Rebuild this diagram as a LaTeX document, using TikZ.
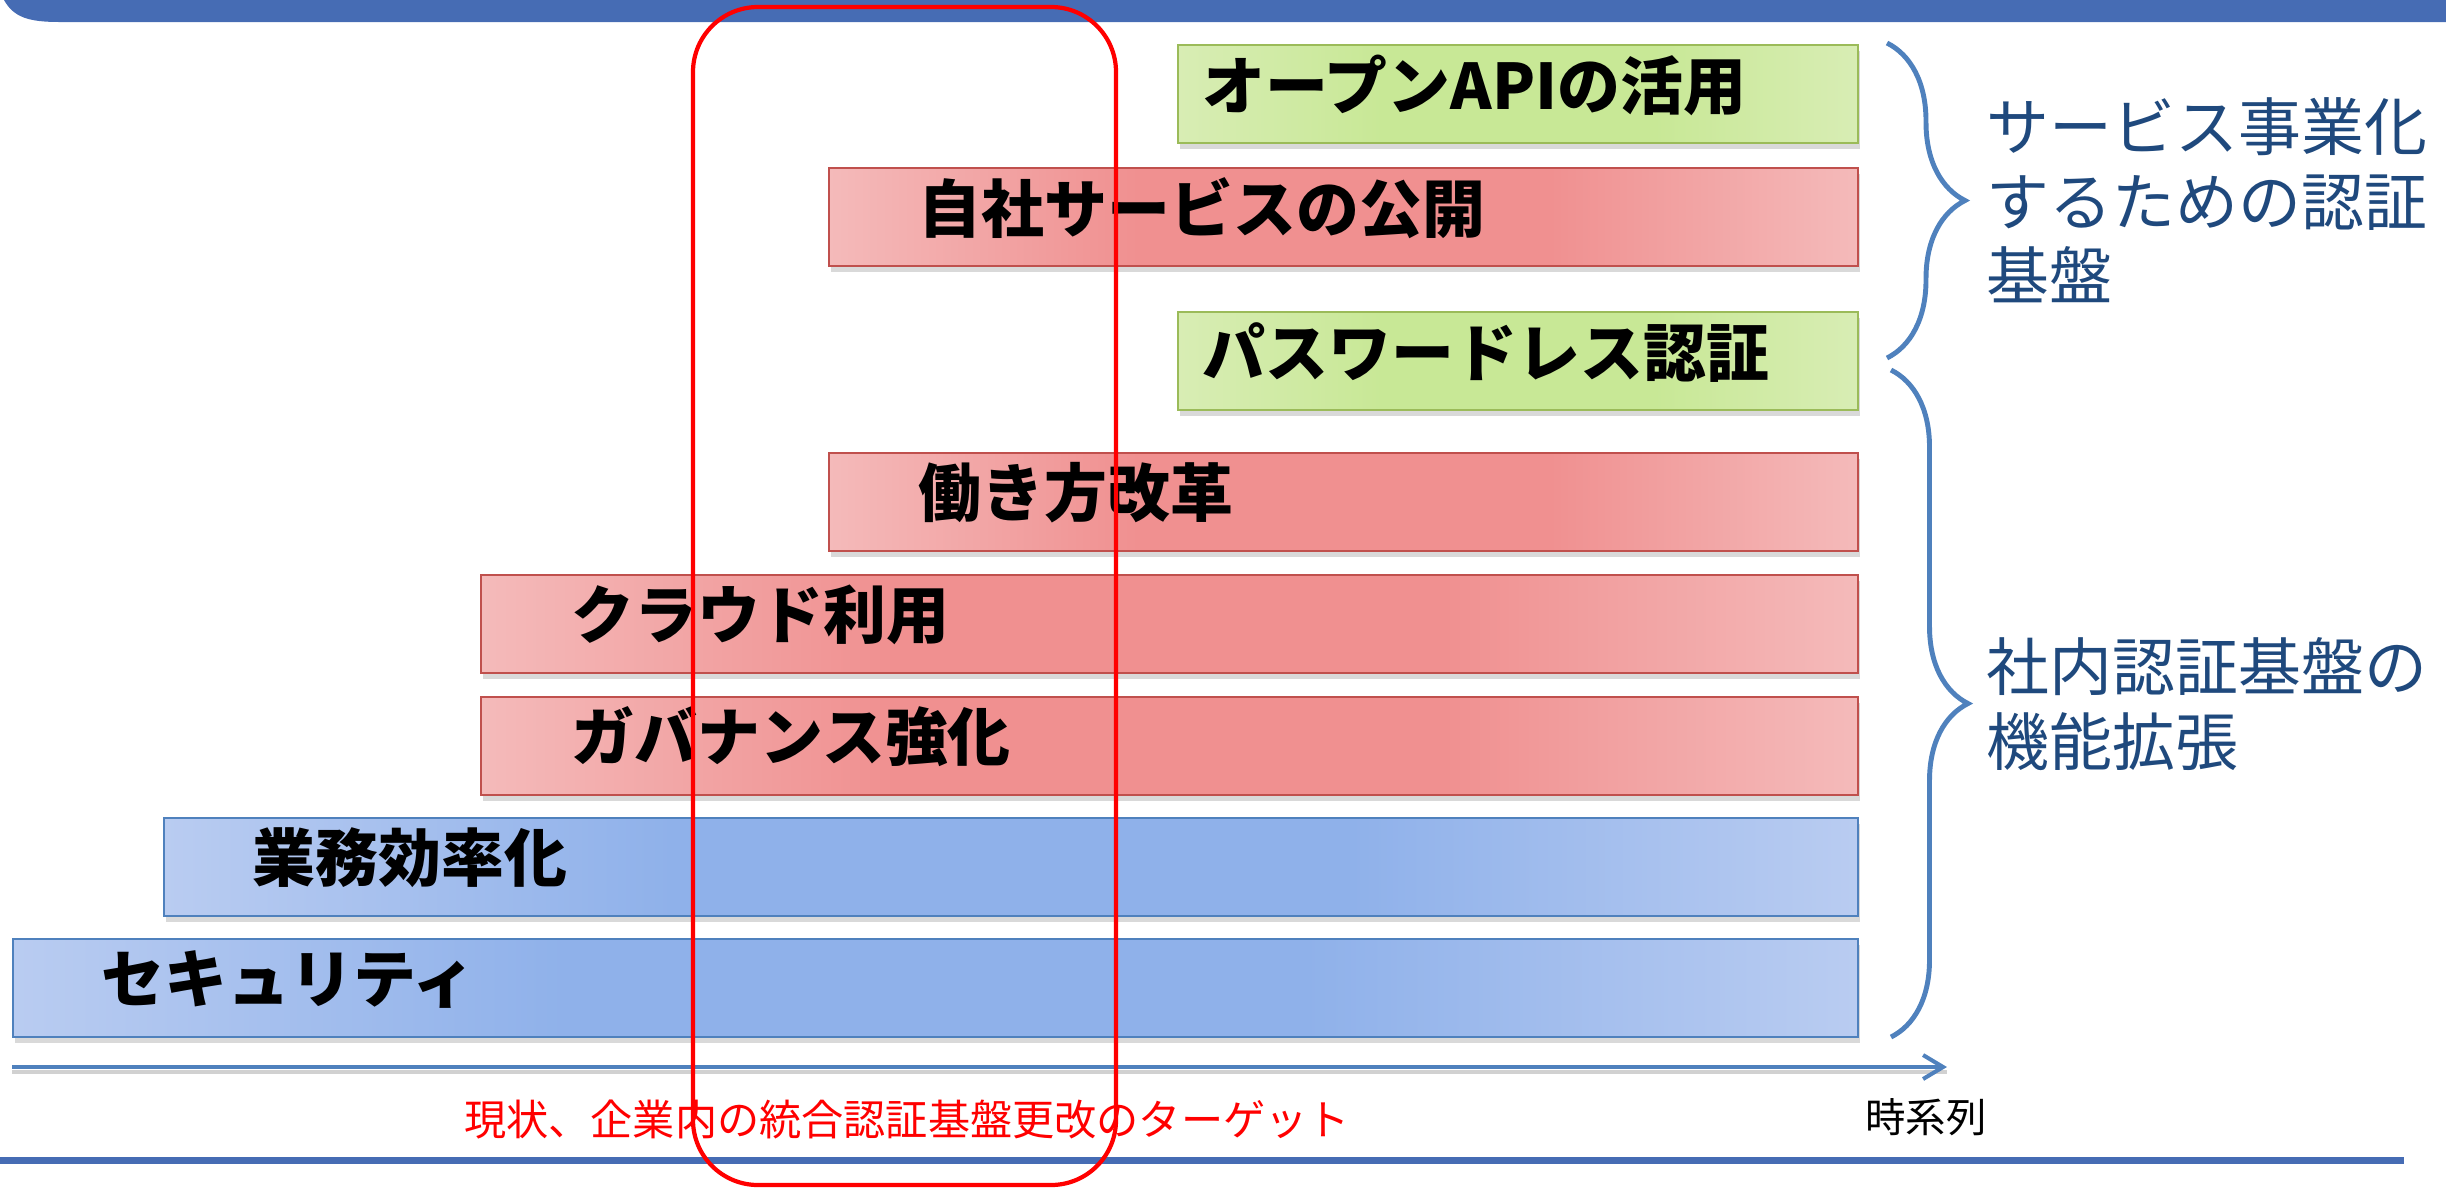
\documentclass[tikz,border=0pt]{standalone}
\usepackage{fontspec}
\newfontfamily\jp{Noto Sans CJK JP}
\usetikzlibrary{arrows.meta,shadows,decorations.pathreplacing}
\definecolor{banner}{HTML}{466CB4}
\definecolor{axisblue}{HTML}{4F81BD}
\definecolor{navy}{HTML}{1F497D}
\definecolor{redL}{HTML}{F4BABA}
\definecolor{redD}{HTML}{F09090}
\definecolor{redE}{HTML}{C0504D}
\definecolor{greenL}{HTML}{D8EDB4}
\definecolor{greenD}{HTML}{C8E896}
\definecolor{greenE}{HTML}{9BBB59}
\definecolor{blueL}{HTML}{B9CCF1}
\definecolor{blueD}{HTML}{8FB1EA}
\definecolor{blueE}{HTML}{4F81BD}
\pgfdeclarehorizontalshading{redgrad}{100bp}{color(0bp)=(redL); color(25bp)=(redL); color(40bp)=(redD); color(60bp)=(redD); color(75bp)=(redL); color(100bp)=(redL)}
\pgfdeclarehorizontalshading{greengrad}{100bp}{color(0bp)=(greenL); color(25bp)=(greenL); color(40bp)=(greenD); color(60bp)=(greenD); color(75bp)=(greenL); color(100bp)=(greenL)}
\pgfdeclarehorizontalshading{bluegrad}{100bp}{color(0bp)=(blueL); color(25bp)=(blueL); color(40bp)=(blueD); color(60bp)=(blueD); color(75bp)=(blueL); color(100bp)=(blueL)}
\tikzset{
  barbox/.style={anchor=north west, inner sep=0pt, minimum height=9.8mm, line width=.6pt,
    drop shadow={shadow xshift=.2mm, shadow yshift=-.6mm, opacity=.3}},
  redbar/.style={barbox, draw=redE, shading=redgrad},
  greenbar/.style={barbox, draw=greenE, shading=greengrad},
  bluebar/.style={barbox, draw=blueE, shading=bluegrad},
  lbl/.style={anchor=west, inner sep=0pt, font=\jp\bfseries\fontsize{17.9pt}{20pt}\selectfont},
  side/.style={anchor=north west, align=left, inner sep=0pt, text=navy,
    font=\jp\fontsize{17.9pt}{21.2pt}\selectfont},
  brc/.style={axisblue, line width=1.4pt, decorate},
}
\begin{document}
\begin{tikzpicture}[x=0.1mm, y=-0.1mm]
  \useasboundingbox (0,0) rectangle (2446,1187);
  \fill[banner] (4,0) .. controls (14,18) and (30,22) .. (60,22) -- (2446,22) -- (2446,0) -- cycle;
  \draw[banner, line width=2pt] (0,1160) -- (2404,1160);
  % les barres
  \node[greenbar, minimum width=68mm] (api) at (1177,44) {};
  \node[lbl] (api-t) at ([xshift=2.5mm, yshift=.9mm]api.west) {オープンAPIの活用};
  \node[redbar, minimum width=102.9mm] (pub) at (828,167) {};
  \node[lbl] (pub-t) at ([xshift=9mm, yshift=.9mm]pub.west) {自社サービスの公開};
  \node[greenbar, minimum width=68mm] (pwl) at (1177,311) {};
  \node[lbl] (pwl-t) at ([xshift=2.5mm, yshift=.9mm]pwl.west) {パスワードレス認証};
  \node[redbar, minimum width=102.9mm] (work) at (828,452) {};
  \node[lbl] (work-t) at ([xshift=9mm, yshift=.9mm]work.west) {働き方改革};
  \node[redbar, minimum width=137.7mm] (cloud) at (480,574) {};
  \node[lbl] (cloud-t) at ([xshift=9.1mm, yshift=.9mm]cloud.west) {クラウド利用};
  \node[redbar, minimum width=137.7mm] (gov) at (480,696) {};
  \node[lbl] (gov-t) at ([xshift=9.1mm, yshift=.9mm]gov.west) {ガバナンス強化};
  \node[bluebar, minimum width=169.4mm] (eff) at (163,817) {};
  \node[lbl] (eff-t) at ([xshift=8.9mm, yshift=.9mm]eff.west) {業務効率化};
  \node[bluebar, minimum width=184.5mm] (sec) at (12,938) {};
  \node[lbl] (sec-t) at ([xshift=8.9mm, yshift=.9mm]sec.west) {セキュリティ};
  % axe du temps
  \coordinate (t0) at (12,1067);
  \coordinate (t1) at (1947,1067);
  \draw[black!30, line width=1.4pt, opacity=.6] ([yshift=-.5mm]t0) -- ([yshift=-.5mm]t1);
  \draw[axisblue, line width=1.15pt, -{Straight Barb[length=2mm, width=2.4mm]}] (t0) -- (t1);
  \node[font=\jp\fontsize{11.5pt}{14pt}\selectfont] (time) at (1926,1117) {時系列};
  \node[font=\jp\fontsize{12pt}{14pt}\selectfont, text=red] (goal) at (907,1120) {現状、企業内の統合認証基盤更改のターゲット};
  % accolades
  \draw[brc, decoration={brace, amplitude=7.8mm}] (1887,43) -- (1887,358);
  \draw[brc, decoration={brace, amplitude=7.7mm}] (1891,370) -- (1891,1037);
  \node[side] (svc) at (1986,97) {サービス事業化\\するための認証\\基盤};
  \node[side] (own) at (1986,637) {社内認証基盤の\\機能拡張};
  \draw[red, line width=1.2pt, rounded corners=6.5mm] (693,7) rectangle (1116,1185);
\end{tikzpicture}
\end{document}
